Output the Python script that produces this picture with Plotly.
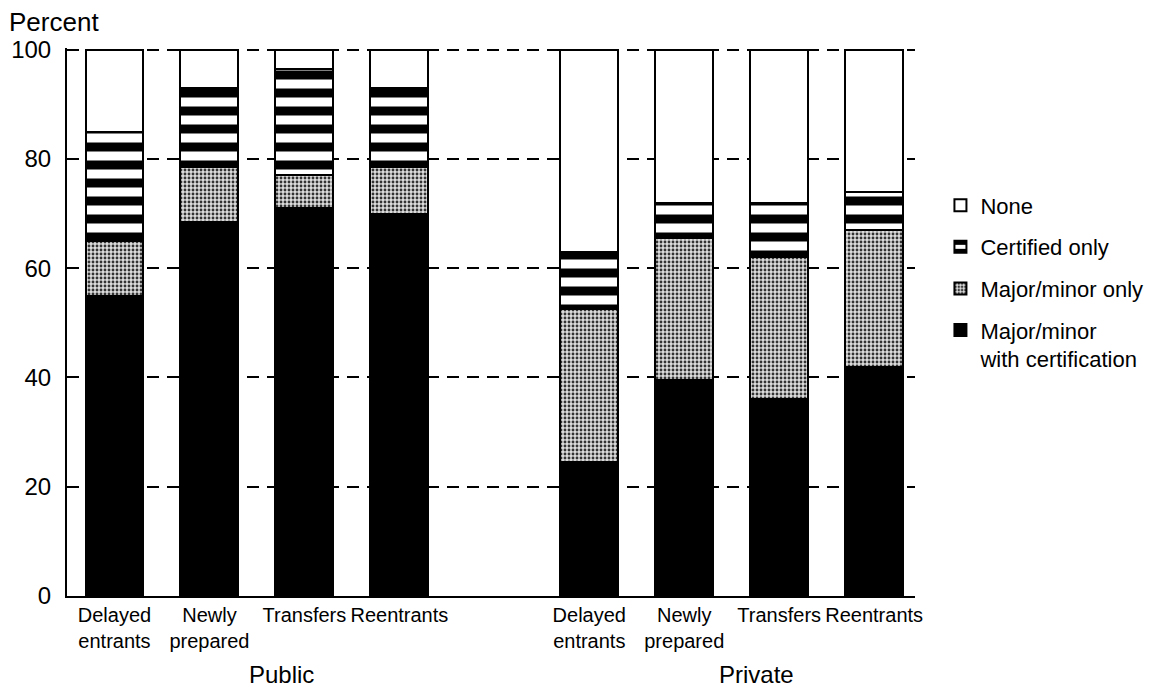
import plotly.graph_objects as go

# Categories (public group at 0-3, private group at 5-8)
categories = ["Delayed<br>entrants", "Newly<br>prepared", "Transfers", "Reentrants",
              "Delayed<br>entrants", "Newly<br>prepared", "Transfers", "Reentrants"]
positions = [0, 1, 2, 3, 5, 6, 7, 8]
groups = ["Public", "Private"]

# Percent values per series
with_cert = [55, 68.5, 71, 70, 24.5, 39.5, 36, 42]
major_minor_only = [10, 10, 6, 8.5, 28, 26, 26, 25]
certified_only = [20, 14.5, 19.5, 14.5, 10.5, 6.5, 10, 7]
none = [15, 7, 3.5, 7, 37, 28, 28, 26]

y_ticks = [0, 20, 40, 60, 80, 100]

FONT = "Liberation Sans, Arial, Helvetica, sans-serif"
bar_w = 0.61
outline = dict(color="black", width=2)

fig = go.Figure()
fig.add_trace(go.Bar(
    x=positions, y=with_cert, name="Major/minor<br>with certification",
    width=bar_w, legendgroup="d", legendrank=4,
    marker=dict(color="black", line=outline)))
fig.add_trace(go.Bar(
    x=positions, y=major_minor_only, name="Major/minor only",
    width=bar_w, legendgroup="c", legendrank=3,
    marker=dict(color="#dcdcdc", line=outline,
                pattern=dict(shape=".", fgcolor="#333333", bgcolor="#dcdcdc",
                             fgopacity=1, size=4, solidity=0.4))))
fig.add_trace(go.Bar(
    x=positions, y=certified_only, name="Certified only",
    width=bar_w, legendgroup="b", legendrank=2,
    marker=dict(color="white", line=outline,
                pattern=dict(shape="-", fgcolor="black", bgcolor="white",
                             fgopacity=1, size=18, solidity=0.5))))
fig.add_trace(go.Bar(
    x=positions, y=none, name="None",
    width=bar_w, legendgroup="a", legendrank=1,
    marker=dict(color="white", line=outline)))

fig.update_layout(
    barmode="stack",
    width=1164, height=688,
    margin=dict(l=59, r=257, t=40, b=100),
    paper_bgcolor="white", plot_bgcolor="white",
    font=dict(family=FONT, color="black"),
    showlegend=True,
    legend=dict(
        traceorder="grouped", x=1.03, xanchor="left", y=0.751, yanchor="top",
        font=dict(size=22, family=FONT, color="black"),
        tracegroupgap=10, valign="top", bgcolor="rgba(0,0,0,0)"),
    xaxis=dict(
        range=[-0.5, 8.43], tickmode="array", tickvals=positions, ticktext=categories,
        showline=True, linecolor="black", linewidth=2, ticks="", showgrid=False,
        zeroline=False, automargin=False,
        tickfont=dict(size=20, family=FONT, color="black")),
    yaxis=dict(
        range=[0, 100.3], tickmode="array", tickvals=y_ticks,
        showline=True, linecolor="black", linewidth=2,
        ticks="inside", ticklen=7, tickwidth=2, tickcolor="black",
        showgrid=True, gridcolor="black", gridwidth=2, griddash="12px,8px",
        zeroline=False, ticklabelstandoff=9, automargin=False,
        tickfont=dict(size=24, family=FONT, color="black")),
)

group_x = [1.76, 6.76]
for gx, g in zip(group_x, groups):
    fig.add_annotation(x=gx, xref="x", y=-0.144, yref="paper", text=g,
                       showarrow=False, xanchor="center", yanchor="middle",
                       font=dict(size=24, family=FONT, color="black"))

fig.add_annotation(x=-0.0695, xref="paper", y=1.0474, yref="paper", text="Percent",
                   showarrow=False, xanchor="left", yanchor="middle", borderpad=0,
                   font=dict(size=26, family=FONT, color="black"))

fig.write_html("out.html")
